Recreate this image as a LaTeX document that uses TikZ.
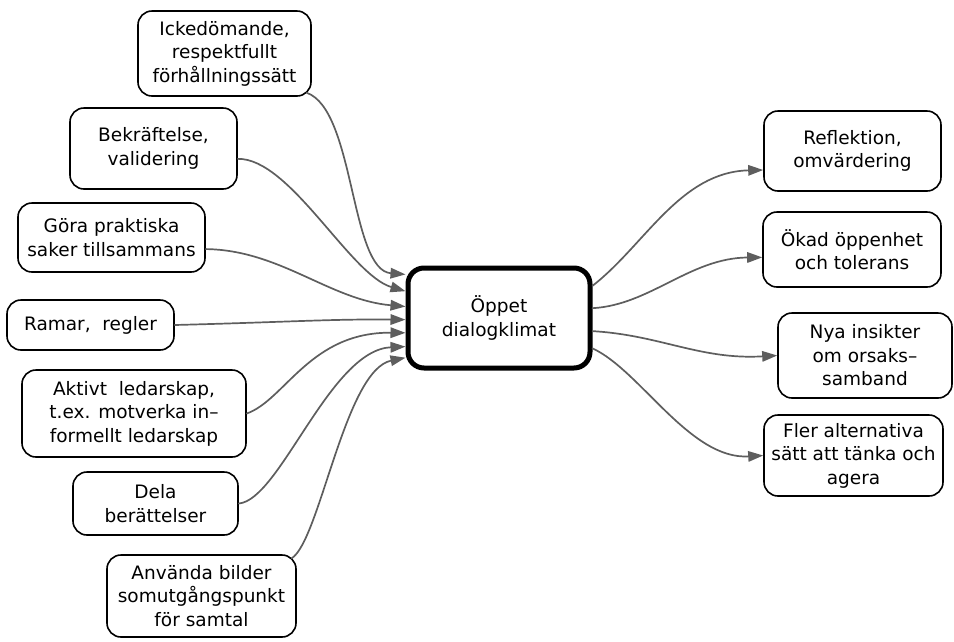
\documentclass[tikz,border=0pt]{standalone}
\usepackage{fontspec}
\setmainfont{DejaVu Sans}
\usetikzlibrary{arrows.meta}
\tikzset{
  idea/.style={draw, line width=1.6pt, rounded corners=14pt, align=center, inner sep=2pt, font=\fontsize{18.5}{23.5}\selectfont},
  hub/.style={idea, line width=5pt, rounded corners=16pt},
  flow/.style={draw=black!63, line width=1.7pt, -{Triangle[length=15pt,width=10.5pt]}},
}
\begin{document}
\begin{tikzpicture}[x=1pt,y=-1pt,line cap=round,line join=round]
\useasboundingbox (0,0) rectangle (954,641);
% centre
\node[hub, minimum width=182pt, minimum height=100pt] (dial) at (499,318) {Öppet\\dialogklimat};
% causes
\node[idea, minimum width=173pt, minimum height=85pt] (ick) at (224.5,53.5) {Ickedömande,\\respektfullt\\förhållningssätt};
\node[idea, minimum width=167pt, minimum height=81pt] (bek) at (153.5,148.5) {Bekräftelse,\\validering};
\node[idea, minimum width=187pt, minimum height=69pt] (gora) at (111.5,237.5) {Göra praktiska\\saker tillsammans};
\node[idea, minimum width=167pt, minimum height=50pt] (ram) at (90.5,325) {Ramar, \ regler};
\node[idea, minimum width=224pt, minimum height=87pt] (akt) at (134,413.5) {Aktivt \ ledarskap,\\t.ex. motverka in–\\formellt ledarskap};
\node[idea, minimum width=165pt, minimum height=63pt] (dela) at (155.5,503.5) {Dela\\berättelser};
\node[idea, minimum width=189pt, minimum height=82pt] (anv) at (201.5,596) {Använda bilder\\somutgångspunkt\\för samtal};
% effects
\node[idea, minimum width=177pt, minimum height=80pt] (refl) at (852.5,151) {Reflektion,\\omvärdering};
\node[idea, minimum width=178pt, minimum height=75pt] (okad) at (852,249.5) {Ökad öppenhet\\och tolerans};
\node[idea, minimum width=174pt, minimum height=85pt] (nya) at (865,355.5) {Nya insikter\\om orsaks–\\samband};
\node[idea, minimum width=179pt, minimum height=81pt] (fler) at (853.5,455.5) {Fler alternativa\\sätt att tänka och\\agera};
% arrows in
\draw[flow] ([shift={(-5,-4)}]ick.south east) .. controls (355,110) and (350,270) .. (dial.155);
\draw[flow] (bek.-7) .. controls (290,158) and (350,275) .. (dial.164);
\draw[flow] (gora.-7) .. controls (280,250) and (330,300) .. (dial.173);
\draw[flow] (ram.east) .. controls (290,322) and (330,319) .. (dial.181);
\draw[flow] (akt.east) .. controls (285,400) and (310,332) .. (dial.189);
\draw[flow] (dela.east) .. controls (280,500) and (330,350) .. (dial.197);
\draw[flow] ([shift={(-5,4)}]anv.north east) .. controls (320,540) and (345,370) .. (dial.203);
% arrows out
\draw[flow] (dial.19) .. controls (645,245) and (680,172) .. (refl.192);
\draw[flow] (dial.6) .. controls (650,305) and (690,258) .. (okad.185);
\draw[flow] (dial.-8) .. controls (660,335) and (700,360) .. (nya.west);
\draw[flow] (dial.-18) .. controls (640,370) and (690,460) .. (fler.west);
\end{tikzpicture}
\end{document}
